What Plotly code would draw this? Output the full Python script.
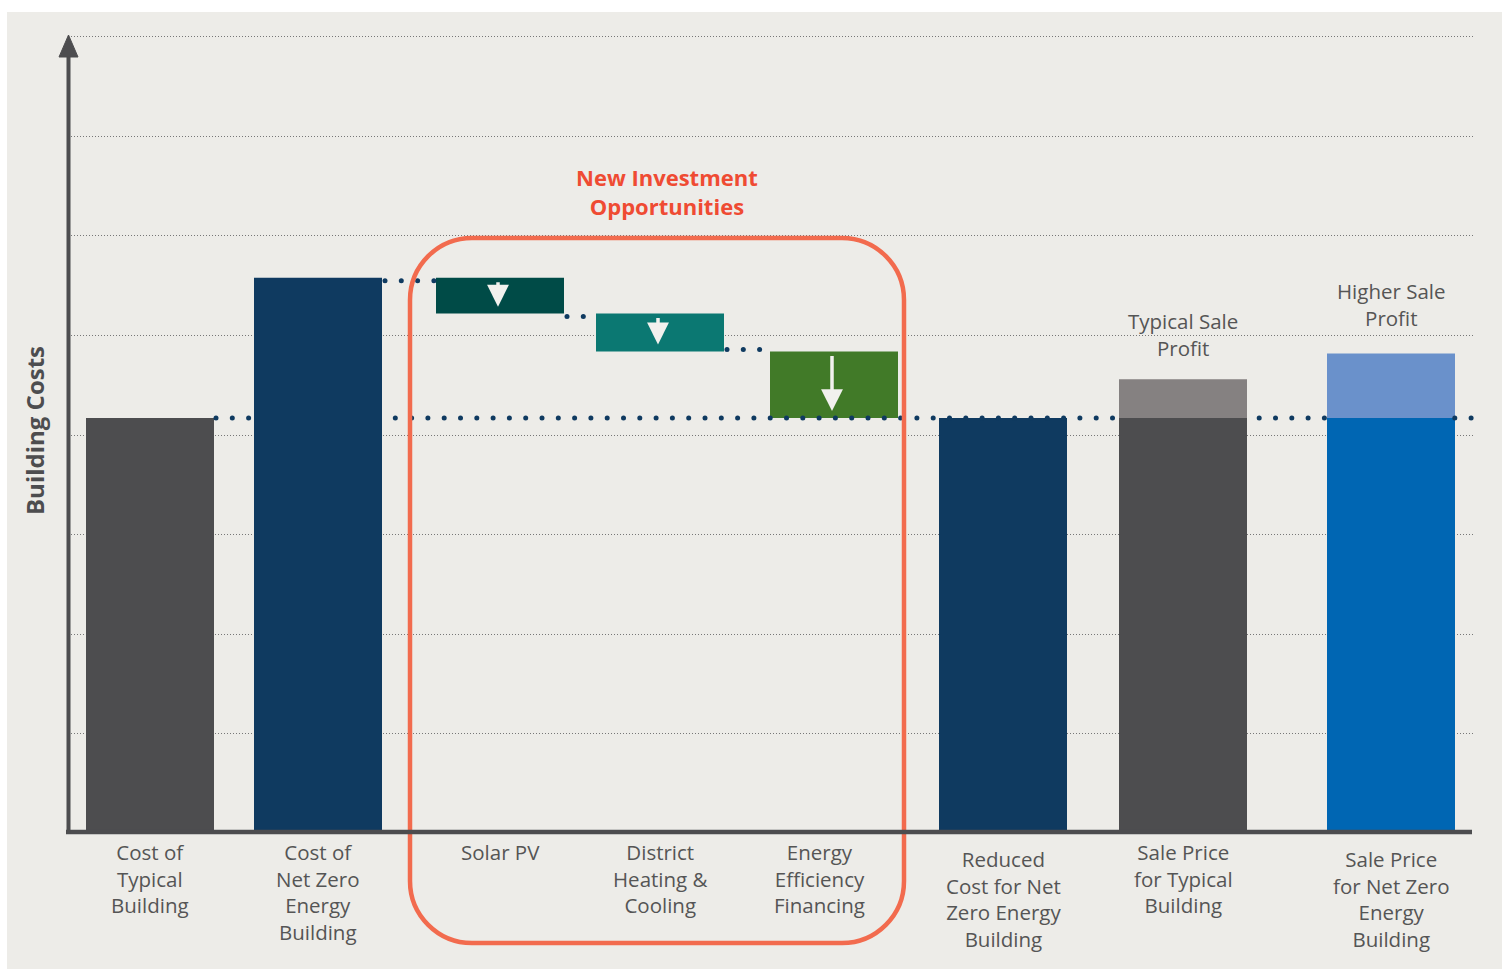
import numpy as np
import plotly.graph_objects as go

# ---- data -------------------------------------------------------------
categories = [
    "Cost of<br>Typical<br>Building",
    "Cost of<br>Net Zero<br>Energy<br>Building",
    "Solar PV",
    "District<br>Heating &<br>Cooling",
    "Energy<br>Efficiency<br>Financing",
    "Reduced<br>Cost for Net<br>Zero Energy<br>Building",
    "Sale Price<br>for Typical<br>Building",
    "Sale Price<br>for Net Zero<br>Energy<br>Building",
]
typical_cost = 4.17
net_zero_cost = 5.58
savings = [0.36, 0.38, 0.67]          # Solar PV, District H&C, EE Financing
typical_profit = 0.39
net_zero_profit = 0.65
profit_labels = ["Typical Sale<br>Profit", "Higher Sale<br>Profit"]
group_title = "New Investment<br>Opportunities"
y_title = "Building Costs"

# ---- layout constants -------------------------------------------------
W, H = 1504, 971
Y_MAX = 8.02
ML, MR, MB = 68, 30, 138
MT = 37 - round(0.02 * 99.5)
PW, PH = W - ML - MR, H - MT - MB
x_pos = [0.82, 2.50, 4.32, 5.92, 7.66, 9.35, 11.15, 13.23]
bar_w = 1.28

def px_x(p):
    return (p - ML) / PW

def px_y(p):
    return (MT + PH - p) / PH

C_GRAY = "#4D4D4F"
C_NAVY = "#0F3A60"
C_TEAL_D = "#004B47"
C_TEAL = "#0B7872"
C_GREEN = "#417A28"
C_GRAY_L = "#858181"
C_BLUE = "#0066B3"
C_BLUE_L = "#6A91CB"
C_ORANGE = "#F26B4E"
C_RED = "#EF4B33"
C_TEXT = "#555555"
C_BG = "#EDECE8"
FONT = "Open Sans"

# running totals for the waterfall steps
levels = [net_zero_cost]
for s in savings:
    levels.append(levels[-1] - s)
reduced_cost = levels[-1]

bar_base = [0, 0, levels[1], levels[2], levels[3], 0, 0, 0]
bar_len = [typical_cost, net_zero_cost, savings[0], savings[1], savings[2],
           reduced_cost, typical_cost, typical_cost]
bar_col = [C_GRAY, C_NAVY, C_TEAL_D, C_TEAL, C_GREEN, C_NAVY, C_GRAY, C_BLUE]
stack_top = [b + l for b, l in zip(bar_base, bar_len)]
stack_top[6] += typical_profit
stack_top[7] += net_zero_profit

fig = go.Figure()

# ---- bars ---------------------------------------------------------------
fig.add_trace(go.Bar(
    x=x_pos, y=bar_len, base=bar_base, width=bar_w,
    marker=dict(color=bar_col, line=dict(width=0)),
    hoverinfo="skip", showlegend=False,
))
fig.add_trace(go.Bar(
    x=[x_pos[6], x_pos[7]], y=[typical_profit, net_zero_profit],
    base=[typical_cost, typical_cost], width=bar_w,
    marker=dict(color=[C_GRAY_L, C_BLUE_L], line=dict(width=0)),
    hoverinfo="skip", showlegend=False,
))

# ---- dotted guide lines (drawn as round dots) -------------------------
def dots(x0, x1, yv, step=0.163):
    xs = np.arange(x0, x1 + 1e-9, step)
    # a dot is hidden where a bar stack passes across this level
    keep = []
    for xv in xs:
        hidden = False
        for xc, b, t in zip(x_pos, bar_base, stack_top):
            if abs(xv - xc) < bar_w / 2 - 0.01 and b < yv - 1e-6 and t > yv + 1e-6:
                hidden = True
        keep.append(not hidden)
    xs = xs[np.array(keep)]
    return xs, np.full(len(xs), yv)

segments = [
    (x_pos[0] + bar_w / 2 + 0.02, 14.06, typical_cost),
    (x_pos[1] + bar_w / 2 + 0.03, x_pos[2] - bar_w / 2, levels[0] - 0.03),
    (x_pos[2] + bar_w / 2 + 0.03, x_pos[3] - bar_w / 2, levels[1] - 0.03),
    (x_pos[3] + bar_w / 2 + 0.03, x_pos[4] - bar_w / 2, levels[2] + 0.02),
]
for x0, x1, yv in segments:
    xs, ys = dots(x0, x1, yv)
    fig.add_trace(go.Scatter(
        x=xs, y=ys, mode="markers",
        marker=dict(size=5, color=C_NAVY, line=dict(width=0)),
        hoverinfo="skip", showlegend=False,
    ))

annotations = []

# ---- white down arrows inside saving steps -----------------------------
for i in range(3):
    xc = x_pos[2 + i] - 0.02
    top = levels[i]
    bot = levels[i + 1]
    annotations.append(dict(
        x=xc, y=bot + 0.07, ax=xc, ay=top - 0.03,
        xref="x", yref="y", axref="x", ayref="y",
        showarrow=True, arrowhead=2, arrowsize=1.25, arrowwidth=3.5,
        arrowcolor="#F2F1EE", text="",
    ))

# ---- category labels -----------------------------------------------------
label_top = [836, 836, 836, 836, 836, 843, 836, 843]
label_shift = [0, 0, 0, 0, -15, 0, 0, 0]
for xc, txt, top, sh in zip(x_pos, categories, label_top, label_shift):
    annotations.append(dict(
        x=xc, y=px_y(top), xref="x", yref="paper", xshift=sh,
        text=txt, showarrow=False, xanchor="center", yanchor="top",
        font=dict(family=FONT, size=20.5, color=C_TEXT), align="center",
    ))

# ---- profit labels -------------------------------------------------------
profit_tops = [typical_cost + typical_profit, typical_cost + net_zero_profit]
for xc, yt, txt, sh in zip([x_pos[6], x_pos[7]], profit_tops, profit_labels,
                           [15, 19]):
    annotations.append(dict(
        x=xc, y=yt, xref="x", yref="y", yshift=sh,
        text=txt, showarrow=False, xanchor="center", yanchor="bottom",
        font=dict(family=FONT, size=20.5, color=C_TEXT), align="center",
    ))

# ---- group title -----------------------------------------------------------
annotations.append(dict(
    x=px_x(667), y=px_y(192), xref="paper", yref="paper",
    text=group_title, showarrow=False, xanchor="center", yanchor="middle",
    font=dict(family=FONT, size=22, color=C_RED, weight=700), align="center",
))

# ---- y axis title ----------------------------------------------------------
annotations.append(dict(
    x=px_x(34), y=px_y(431), xref="paper", yref="paper",
    text=y_title, showarrow=False, textangle=-90,
    xanchor="center", yanchor="middle",
    font=dict(family=FONT, size=24, color=C_GRAY, weight=700),
))

# ---- shapes --------------------------------------------------------------
shapes = []
# background panel
shapes.append(dict(
    type="rect", xref="paper", yref="paper",
    x0=px_x(7), x1=px_x(1502), y0=px_y(969), y1=px_y(12),
    fillcolor=C_BG, line=dict(width=0), layer="below",
))

# rounded frame around the investment steps
def rounded_rect(x0, y0, x1, y1, r):
    k = 0.5523 * r
    X = px_x
    Y = px_y
    pts = [
        f"M{X(x0 + r)},{Y(y0)}",
        f"L{X(x1 - r)},{Y(y0)}",
        f"C{X(x1 - r + k)},{Y(y0)} {X(x1)},{Y(y0 + r - k)} {X(x1)},{Y(y0 + r)}",
        f"L{X(x1)},{Y(y1 - r)}",
        f"C{X(x1)},{Y(y1 - r + k)} {X(x1 - r + k)},{Y(y1)} {X(x1 - r)},{Y(y1)}",
        f"L{X(x0 + r)},{Y(y1)}",
        f"C{X(x0 + r - k)},{Y(y1)} {X(x0)},{Y(y1 - r + k)} {X(x0)},{Y(y1 - r)}",
        f"L{X(x0)},{Y(y0 + r)}",
        f"C{X(x0)},{Y(y0 + r - k)} {X(x0 + r - k)},{Y(y0)} {X(x0 + r)},{Y(y0)}",
        "Z",
    ]
    return " ".join(pts)

shapes.append(dict(
    type="path", xref="paper", yref="paper",
    path=rounded_rect(410, 238, 904, 943, 62),
    line=dict(color=C_ORANGE, width=4.5), layer="above",
))

# axes with arrow on the vertical one
shapes.append(dict(
    type="line", xref="paper", yref="paper",
    x0=px_x(66), x1=px_x(1472), y0=px_y(832), y1=px_y(832),
    line=dict(color=C_GRAY, width=4.5), layer="above",
))
shapes.append(dict(
    type="line", xref="paper", yref="paper",
    x0=px_x(68.5), x1=px_x(68.5), y0=px_y(834), y1=px_y(50),
    line=dict(color=C_GRAY, width=4), layer="above",
))
shapes.append(dict(
    type="path", xref="paper", yref="paper",
    path=f"M{px_x(68.5)},{px_y(35)} L{px_x(78)},{px_y(57)} "
         f"L{px_x(59)},{px_y(57)} Z",
    fillcolor=C_GRAY, line=dict(color=C_GRAY, width=1), layer="above",
))

fig.update_layout(
    width=W, height=H,
    margin=dict(l=ML, r=MR, t=MT, b=MB, pad=0),
    paper_bgcolor="white",
    plot_bgcolor="rgba(0,0,0,0)",
    barmode="overlay",
    showlegend=False,
    xaxis=dict(range=[0, PW / 100], showgrid=False, zeroline=False,
               showticklabels=False, ticks="", showline=False, fixedrange=True),
    yaxis=dict(range=[0, Y_MAX], tickmode="array",
               tickvals=list(range(1, 9)), showgrid=True, gridcolor="#777777",
               gridwidth=1, griddash="1px,2px", zeroline=False,
               showticklabels=False, ticks="", showline=False, fixedrange=True),
    shapes=shapes,
    annotations=annotations,
    font=dict(family=FONT),
)

fig.write_html("out.html")
